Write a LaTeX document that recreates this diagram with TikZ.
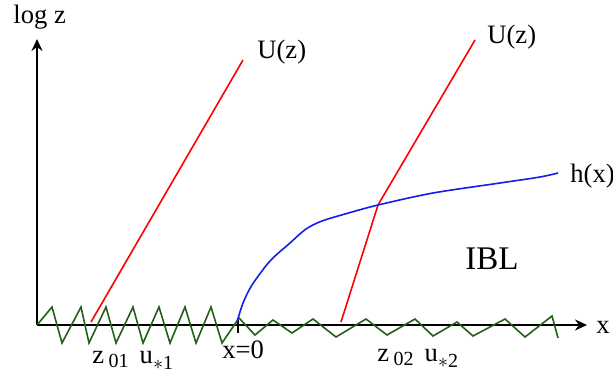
\documentclass[tikz,border=0pt]{standalone}
\usepackage{fontspec}
\setmainfont{Liberation Serif}
\usetikzlibrary{arrows.meta}
\newcommand{\lowsub}[2]{\raisebox{-#1}{\fontsize{10}{11}\selectfont #2}}
\definecolor{zzgreen}{RGB}{35,95,25}
\definecolor{hblue}{RGB}{20,30,235}

\begin{document}
\begin{tikzpicture}[x=0.5pt,y=-0.5pt,>={Stealth[length=6pt,width=5.5pt,inset=2pt]}]
  \useasboundingbox (0,0) rectangle (613,375);
  \tikzset{lab/.style={anchor=base west,inner sep=0pt,font=\fontsize{13.3}{15}\selectfont}}
  % axes
  \coordinate (O) at (37,325);
  \coordinate (ytip) at (37,39);
  \coordinate (xtip) at (587,325);
  \draw[->,line width=1pt] (O) -- (ytip);
  \draw[->,line width=1pt] (O) -- (xtip);
  \coordinate (tickt) at (238,318);
  \coordinate (tickb) at (238,333);
  \draw[line width=1pt] (tickt) -- (tickb);
  % rough surface
  \draw[zzgreen,line width=0.8pt,line join=miter] (37,325) -- (52,307) -- (62,343) -- (81,307) -- (89,343)
    -- (106,307) -- (116,343) -- (133,307) -- (143,343) -- (159,307) -- (170,343) -- (185,307)
    -- (196,343) -- (211,307) -- (222,343) -- (239,318) -- (255,335) -- (273,320) -- (292,333)
    -- (313,319) -- (336,337) -- (366,319) -- (387,335) -- (415,319) -- (433,336) -- (457,322)
    -- (473,336) -- (505,319) -- (525,337) -- (552,316) -- (558,338);
  % wind profiles
  \draw[red,line width=0.8pt] (91,322) -- (243,60);
  \draw[red,line width=0.8pt] (341,322) -- (378,205) -- (475,40);
  % boundary layer height
  \draw[hblue,line width=0.8pt] plot[smooth,tension=0.5] coordinates {(237,322) (243,303) (252,285)
    (270,261) (290,243) (306,229) (322,221) (345,214) (378,205) (433,193) (500,183) (540,177) (558,173)};
  % labels
  \node[lab] (ylab) at (13,23) {log z};
  \node[lab] (xlab) at (596,333) {x};
  \node[lab] (Ul) at (257,58) {U(z)};
  \node[lab] (Ur) at (487,43) {U(z)};
  \node[lab] (hx) at (570,182) {h(x)};
  \node[lab,font=\fontsize{16.5}{18}\selectfont] (ibl) at (465,269) {IBL};
  \node[lab] (xzero) at (222,358) {x=0};
  \node[lab] (zleft) at (92,363) {z\,\lowsub{2pt}{01}\, u\lowsub{3pt}{$*$1}};
  \node[lab] (zright) at (377,361) {z\,\lowsub{2pt}{02}\, u\lowsub{3pt}{$*$2}};
\end{tikzpicture}
\end{document}
